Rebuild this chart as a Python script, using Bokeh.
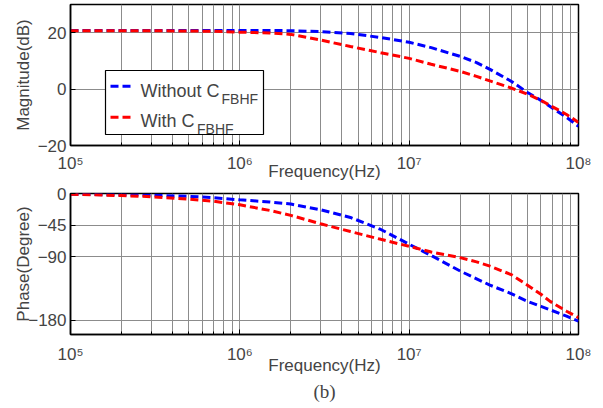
from bokeh.plotting import figure
from bokeh.models import (Range1d, FixedTicker, CustomJSTickFormatter, BoxAnnotation,
                          Arrow, Label, Title)
from bokeh.layouts import column
from bokeh.embed import file_html
from bokeh.resources import INLINE

# ---------------- data ----------------
freq = [1e5, 2e5, 3e5, 5e5, 7e5, 1e6, 1.5e6, 2e6, 3e6, 4.5e6, 6.8e6, 1e7, 1.35e7,
        2e7, 2.5e7, 3e7, 4e7, 5e7, 6e7, 6.8e7, 8.5e7, 1e8]
mag_without = [20.8, 20.8, 20.8, 20.8, 20.8, 20.8, 20.8, 20.7, 20.4, 19.7, 18.3, 16.6, 14.7,
               11.6, 9.4, 7.0, 2.8, -1.2, -4.0, -6.2, -10.0, -13.2]
mag_with = [20.7, 20.7, 20.7, 20.6, 20.5, 20.2, 19.9, 19.4, 17.4, 15.1, 12.9, 10.9, 8.8,
            6.3, 4.5, 2.9, 0.4, -1.8, -4.0, -5.8, -9.0, -11.8]
phase_without = [-1, -2, -2.5, -4, -6, -9, -12, -15, -23, -34, -51, -72, -88,
                 -110, -121, -130, -142, -153, -160, -165, -174, -181]
phase_with = [-1, -3, -4.5, -8, -11, -16, -24, -31, -43, -54, -65, -75, -83,
              -91, -97, -103, -115, -130, -143, -153, -167, -176]

x_ticks = [1e5, 1e6, 1e7, 1e8]
x_minor_ticks = [m * 10 ** e for e in range(5, 8) for m in range(2, 10)]
x_tick_labels = ["10\u2075", "10\u2076", "10\u2077", "10\u2078"]
mag_ticks = [-20, 0, 20]
phase_ticks = [-180, -90, -45, 0]
series_labels = ["Without C", "With C"]
series_colors = ["#0000ff", "#ff0000"]
subscript = "FBHF"

FONT = "Liberation Sans"
GRID = "#8c8c8c"
FRAME_W = 508
FRAME_H = 141


def make_fig(y_start, y_end, y_ticks, ylabel, ylabel_standoff, tick_standoff,
             xlabel_standoff, b_top, b_bottom):
    p = figure(frame_width=FRAME_W, frame_height=FRAME_H, x_axis_type="log",
               x_range=Range1d(1e5, 1e8), y_range=Range1d(y_start, y_end),
               output_backend="svg", toolbar_location=None,
               min_border_left=70, min_border_right=22, min_border_top=b_top,
               min_border_bottom=b_bottom)
    p.background_fill_color = "white"
    p.border_fill_color = "white"
    p.outline_line_color = "black"
    p.outline_line_width = 1.5

    xt = FixedTicker(ticks=x_ticks, minor_ticks=x_minor_ticks)
    yt = FixedTicker(ticks=y_ticks)
    xa = p.xaxis[0]
    xa.ticker = xt
    xa.formatter = CustomJSTickFormatter(
        args=dict(tvals=x_ticks, tlabels=x_tick_labels),
        code="const i = tvals.findIndex(t => Math.abs(Math.log10(t) - Math.log10(tick)) < 1e-6);"
             "return i >= 0 ? tlabels[i] : '';")
    xa.axis_label = "Frequency(Hz)"
    xa.axis_label_text_font = FONT
    xa.axis_label_text_font_size = "17px"
    xa.axis_label_text_font_style = "normal"
    xa.axis_label_standoff = xlabel_standoff
    xa.major_label_text_font = FONT
    xa.major_label_text_font_size = "17px"
    xa.major_label_standoff = tick_standoff
    xa.major_tick_in = 5
    xa.major_tick_out = 0
    xa.minor_tick_in = 3
    xa.minor_tick_out = 0
    xa.axis_line_width = 1.5

    ya = p.yaxis[0]
    ya.ticker = yt
    ya.axis_label = ylabel
    ya.axis_label_text_font = FONT
    ya.axis_label_text_font_size = "17px"
    ya.axis_label_text_font_style = "normal"
    ya.axis_label_standoff = ylabel_standoff
    ya.major_label_text_font = FONT
    ya.major_label_text_font_size = "17px"
    ya.major_label_standoff = 4
    ya.major_tick_in = 5
    ya.major_tick_out = 0
    ya.minor_tick_line_color = None
    ya.axis_line_width = 1.5

    p.xgrid.ticker = xt
    p.ygrid.ticker = yt
    for g in (p.xgrid[0], p.ygrid[0]):
        g.grid_line_color = GRID
        g.grid_line_width = 1
    p.xgrid.minor_grid_line_color = GRID
    p.xgrid.minor_grid_line_width = 1
    return p


# ---------------- magnitude ----------------
p1 = make_fig(-20, 30, mag_ticks, "Magnitude(dB)", 2, 8, -14, 4, 38)
p1.line(freq, mag_without, line_color=series_colors[0], line_width=3, line_dash="8 4")
p1.line(freq, mag_with, line_color=series_colors[1], line_width=3, line_dash="8 4")


def fx(px):
    # offset in pixels from the frame's left edge -> frequency on the log axis
    return 10 ** (5 + px * 3 / FRAME_W)


def fy(px):
    # offset in pixels from the frame's top edge -> magnitude value
    return 30 - px * 50 / FRAME_H


# legend (drawn by hand so that the subscripts can be set)
p1.add_layout(BoxAnnotation(left=fx(35), right=fx(193), top=fy(66), bottom=fy(130),
                            fill_color="white", fill_alpha=1.0,
                            line_color="black", line_width=1.2, line_alpha=1.0))
rows = [(81.7, 86, 151, 94), (112.7, 116, 126.5, 124.5)]
for (ly, ty, sx, sy), lab, col in zip(rows, series_labels, series_colors):
    p1.add_layout(Arrow(x_start=fx(40), y_start=fy(ly), x_end=fx(63), y_end=fy(ly),
                        end=None, line_color=col, line_width=3, line_dash="8 4"))
    p1.add_layout(Label(x=fx(70), y=fy(ty), text=lab, text_font=FONT,
                        text_font_size="18px", text_baseline="alphabetic"))
    p1.add_layout(Label(x=fx(sx), y=fy(sy), text=subscript, text_font=FONT,
                        text_font_size="14px", text_baseline="alphabetic"))

# ---------------- phase ----------------
p2 = make_fig(-200, 0, phase_ticks, "Phase(Degree)", -8, 10, -11, 10, 68)
p2.line(freq, phase_without, line_color=series_colors[0], line_width=3, line_dash="8 4")
p2.line(freq, phase_with, line_color=series_colors[1], line_width=3, line_dash="8 4")
p2.add_layout(Title(text="(b)", align="center", text_font="Liberation Serif",
                    text_font_size="19px", text_font_style="normal", standoff=3), "below")

layout = column(p1, p2, spacing=0)
open("out.html", "w").write(file_html(layout, INLINE))
